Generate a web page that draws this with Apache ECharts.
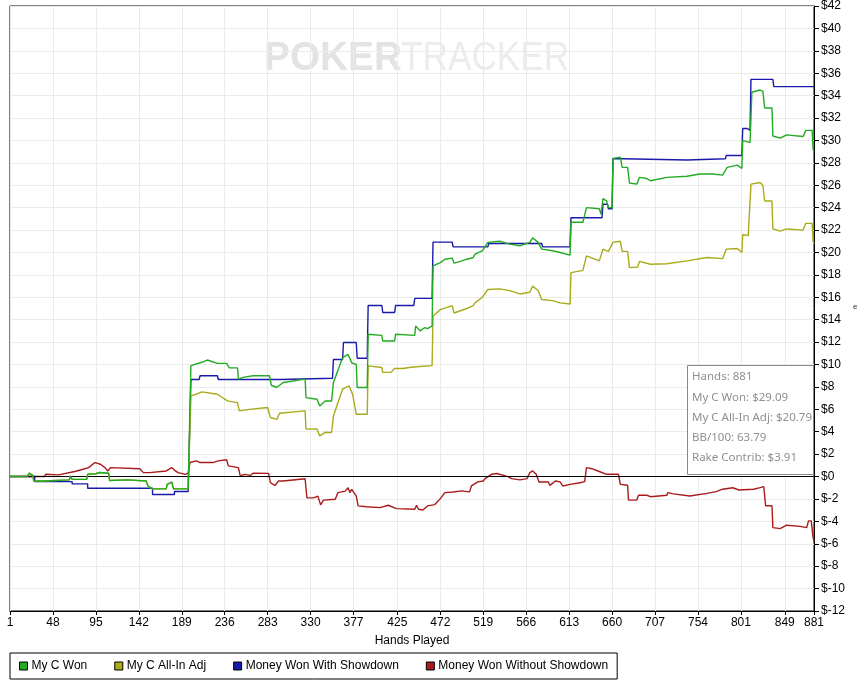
<!DOCTYPE html>
<html>
<head>
<meta charset="utf-8">
<title>Hands Played</title>
<script src="https://cdn.jsdelivr.net/npm/echarts@6/dist/echarts.min.js"></script>
<style>
    html, body { margin: 0; padding: 0; background: #fff; }
    #chart { width: 859px; height: 687px; }
</style>
</head>
<body>
<div id="chart"></div>
<script>
// hand numbers shown on the x axis
var tickHands = [1, 48, 95, 142, 189, 236, 283, 330, 377, 425, 472, 519, 566, 613, 660, 707, 754, 801, 849, 881];

var seriesNames = ['My C Won', 'My C All-In Adj', 'Money Won With Showdown', 'Money Won Without Showdown'];
var seriesColors = ['#22aa22', '#aaaa1a', '#1a1aaa', '#aa1a1a'];

// [hand, $]
var myCWon = [
    [1, 0], [20, 0], [22, 0.3], [26, 0.1], [27, -0.4], [38, -0.4], [39, -0.24], [66, -0.3], [67, 0.05], [69, -0.25],
    [85, -0.25], [86, 0.2], [95, 0.25], [99, 0.36], [109, 0.3], [110, -0.35], [130, -0.3], [150, -0.4], [152, -0.84],
    [157, -1.1], [172, -1.1], [173, -0.7], [178, -0.5], [180, -1.1], [196, -1.1],
    [199, 9.9], [200, 10.0], [211, 10.2], [217, 10.4], [228, 10.1], [238, 10.1], [241, 9.7], [250, 9.7], [251, 8.7],
    [256, 8.85], [267, 9.0], [285, 9.0], [287, 8.15], [293, 7.95], [300, 8.4], [324, 8.7], [325, 7.05], [337, 6.9],
    [340, 6.3], [346, 6.75], [353, 6.75], [355, 8.4], [365, 10.6], [371, 10.9], [375, 10.15], [380, 10.0], [381, 7.95],
    [392, 7.95], [393, 12.7], [408, 12.6], [409, 12.1], [422, 12.1], [423, 12.7], [444, 12.6], [445, 13.45], [450, 13.0],
    [455, 13.3], [458, 13.2], [463, 13.45], [464, 18.8], [472, 19.1], [477, 19.4], [485, 19.5], [487, 19.05], [494, 19.2],
    [501, 19.4], [508, 19.55], [510, 19.85], [518, 20.15], [524, 20.9], [537, 21.0], [548, 20.75], [559, 20.6],
    [570, 20.9], [573, 21.3], [579, 20.9], [583, 20.3], [595, 20.15], [603, 20.0], [614, 19.76], [615, 22.7],
    [628, 22.7], [632, 24.0], [646, 23.9], [648, 23.4], [650, 24.8], [654, 24.6], [656, 24.0], [660, 24.0], [661, 28.4],
    [669, 28.5], [671, 27.6], [677, 27.6], [679, 26.2], [687, 26.1], [690, 26.7], [698, 26.6], [702, 26.4], [720, 26.7],
    [742, 26.8], [756, 27.0], [770, 27.0], [781, 26.9], [786, 27.6], [797, 27.8], [802, 27.5], [803, 30.0], [811, 29.8],
    [813, 34.3], [822, 34.5], [825, 34.4], [827, 32.9], [835, 32.9], [836, 30.4], [844, 30.2], [851, 30.5], [869, 30.35],
    [872, 30.9], [879, 30.9], [880, 29.2], [881, 29.09]
];

var myCAllInAdj = [
    [1, 0], [20, 0], [22, 0.3], [26, 0.1], [27, -0.4], [38, -0.4], [39, -0.24], [66, -0.3], [67, 0.05], [69, -0.25],
    [85, -0.25], [86, 0.2], [95, 0.25], [99, 0.36], [109, 0.3], [110, -0.35], [130, -0.3], [150, -0.4], [152, -0.84],
    [157, -1.1], [172, -1.1], [173, -0.7], [178, -0.5], [180, -1.1], [196, -1.1],
    [199, 7.2], [205, 7.35], [211, 7.56], [228, 7.35], [230, 7.2], [239, 6.75], [250, 6.6], [252, 5.86], [263, 6.0],
    [283, 6.16], [286, 5.27], [293, 5.1], [296, 5.65], [324, 5.86], [325, 4.23], [337, 4.25], [340, 3.63], [346, 3.95],
    [353, 3.93], [355, 5.4], [365, 7.8], [372, 8.1], [376, 7.35], [380, 5.56], [392, 5.56], [393, 9.88], [408, 9.73],
    [409, 9.3], [418, 9.3], [422, 9.64], [431, 9.64], [438, 9.73], [446, 9.8], [463, 9.9], [464, 14.3], [472, 14.9],
    [485, 15.25], [487, 14.6], [494, 14.8], [501, 15.0], [508, 15.25], [510, 15.5], [518, 16.0], [524, 16.7],
    [537, 16.75], [548, 16.6], [559, 16.3], [570, 16.45], [573, 17.0], [579, 16.6], [583, 15.8], [595, 15.7],
    [603, 15.5], [614, 15.4], [615, 18.2], [628, 18.4], [632, 19.7], [646, 19.25], [650, 20.3], [656, 20.1],
    [661, 20.9], [669, 21.0], [671, 20.1], [677, 20.1], [679, 18.65], [688, 18.7], [690, 19.2], [702, 18.95],
    [720, 19.0], [742, 19.25], [764, 19.55], [781, 19.45], [785, 20.3], [797, 20.35], [802, 20.0], [803, 21.6],
    [809, 21.5], [812, 26.1], [822, 26.25], [825, 26.0], [827, 24.6], [835, 24.6], [836, 22.1], [844, 21.9],
    [851, 22.1], [869, 22.0], [872, 22.6], [879, 22.6], [880, 21.0], [881, 20.79]
];

var wonWithShowdown = [
    [1, 0], [28, 0], [28, -0.45], [69, -0.45], [69, -0.65], [86, -0.65], [86, -1.04], [157, -1.04], [157, -1.6],
    [181, -1.6], [181, -1.34], [196, -1.34], [199, 8.66], [208, 8.66], [209, 9.0], [228, 9.0], [229, 8.66],
    [297, 8.66], [298, 8.78], [354, 8.78], [355, 10.45], [365, 10.45], [366, 11.96], [380, 11.96], [381, 10.56],
    [392, 10.56], [393, 15.27], [408, 15.27], [409, 14.64], [422, 14.64], [423, 15.27], [443, 15.27], [444, 15.9],
    [463, 15.9], [464, 20.92], [485, 20.92], [486, 20.5], [524, 20.5], [525, 20.8], [583, 20.8], [584, 20.5],
    [614, 20.5], [615, 23.1], [649, 23.1], [650, 24.3], [655, 24.3], [656, 23.9], [660, 23.9], [661, 28.37],
    [672, 28.37], [673, 28.25], [742, 28.25], [743, 28.37], [784, 28.37], [785, 28.66], [802, 28.66], [803, 31.07],
    [808, 31.07], [809, 30.9], [811, 30.9], [812, 35.45], [836, 35.45], [837, 34.8], [881, 34.8]
];

var wonWithoutShowdown = [
    [1, 0], [39, 0], [40, 0.2], [54, 0.15], [72, 0.45], [81, 0.65], [87, 0.8], [94, 1.25], [100, 1.1], [105, 0.8],
    [108, 0.5], [111, 0.8], [143, 0.7], [147, 0.35], [154, 0.35], [172, 0.5], [178, 0.8], [182, 0.5], [185, 0.35],
    [193, 0.2], [196, 0.3], [198, 1.25], [205, 1.4], [209, 1.25], [223, 1.25], [229, 1.4], [238, 1.5], [240, 0.95],
    [251, 0.8], [253, 0.06], [258, 0.2], [264, 0.1], [267, 0.3], [284, 0.28], [286, -0.55], [291, -0.8], [295, -0.4],
    [300, -0.4], [324, -0.2], [326, -1.9], [333, -1.9], [338, -1.75], [341, -2.53], [344, -2.1], [357, -2.03],
    [360, -1.43], [368, -1.3], [371, -1.0], [373, -1.43], [375, -1.15], [380, -1.75], [382, -2.62], [391, -2.7],
    [406, -2.77], [415, -2.56], [424, -2.86], [444, -2.92], [446, -2.56], [448, -2.92], [453, -2.98], [458, -2.62],
    [466, -2.5], [472, -1.97], [477, -1.43], [486, -1.38], [495, -1.28], [497, -1.13], [504, -1.37], [506, -0.84],
    [513, -0.48], [519, -0.4], [521, -0.18], [528, 0.2], [534, 0.27], [546, 0.0], [550, -0.18], [559, -0.3],
    [567, -0.18], [570, 0.36], [573, 0.5], [577, 0.2], [580, -0.48], [590, -0.48], [592, -0.79], [598, -0.4],
    [603, -0.48], [606, -0.84], [614, -0.7], [625, -0.55], [630, -0.45], [632, 0.8], [638, 0.7], [646, 0.45],
    [654, 0.2], [667, 0.2], [669, -0.7], [677, -0.77], [678, -2.1], [687, -2.1], [689, -1.67], [698, -1.67],
    [702, -1.8], [720, -1.67], [721, -1.43], [727, -1.55], [745, -1.73], [764, -1.5], [774, -1.35], [781, -1.13],
    [792, -1.0], [799, -1.2], [815, -1.13], [822, -0.99], [826, -0.9], [828, -2.6], [835, -2.6], [836, -4.56],
    [844, -4.65], [851, -4.34], [866, -4.45], [873, -4.56], [875, -3.96], [878, -3.96], [880, -5.45], [881, -5.75]
];

var infoLines = ['Hands: 881', 'My C Won: $29.09', 'My C All-In Adj: $20.79', 'BB/100: 63.79', 'Rake Contrib: $3.91'];

var hands = [];
for (var i = 1; i <= 881; i++) {
    hands.push(String(i));
}

function isTick(index) {
    return tickHands.indexOf(index + 1) >= 0;
}

// hand number -> category index
function toIndex(points) {
    return points.map(function (p) {
        return [p[0] - 1, p[1]];
    });
}

var chartDom = document.getElementById('chart');
var myChart = echarts.init(chartDom);

var axisFont = "'Liberation Sans Narrow', 'Liberation Sans', Arial, sans-serif";
var allData = [myCWon, myCAllInAdj, wonWithShowdown, wonWithoutShowdown];
// draw order in the picture: red, blue, mustard, green on top
var drawOrder = [3, 2, 1, 0];

var series = drawOrder.map(function (k) {
    return {
        name: seriesNames[k],
        type: 'line',
        data: toIndex(allData[k]),
        showSymbol: false,
        symbol: 'none',
        z: 3 + (3 - k),
        lineStyle: { color: seriesColors[k], width: 1.4 },
        itemStyle: { color: seriesColors[k] },
        animation: false
    };
});

// black zero line
series[0].markLine = {
    silent: true,
    symbol: 'none',
    label: { show: false },
    lineStyle: { color: '#000', width: 1, type: 'solid' },
    data: [{ yAxis: 0 }]
};

var infoGraphic = [{
    type: 'rect',
    shape: { x: 687.5, y: 365.5, width: 126, height: 109 },
    style: { fill: '#fff', stroke: '#8a8a8a', lineWidth: 1 },
    z: 100
}];
infoLines.forEach(function (t, i) {
    infoGraphic.push({
        type: 'text',
        x: 692,
        y: 377 + i * 20.3,
        style: {
            text: t,
            fill: '#8f8f8f',
            font: "11.5px 'Noto Sans', 'Open Sans', sans-serif",
            verticalAlign: 'middle'
        },
        z: 101
    });
});

var option = {
    backgroundColor: '#fff',
    animation: false,
    grid: {
        left: 10,
        right: 45,
        top: 6,
        bottom: 76,
        show: true,
        borderColor: '#000',
        borderWidth: 1
    },
    legend: {
        data: seriesNames,
        left: 10,
        top: 653,
        orient: 'horizontal',
        icon: 'rect',
        itemWidth: 8,
        itemHeight: 8,
        itemGap: 27,
        padding: [7, 9, 7, 9],
        borderColor: '#000',
        borderWidth: 1,
        selectedMode: false,
        itemStyle: { borderColor: '#000', borderWidth: 1 },
        textStyle: { fontFamily: axisFont, fontSize: 12, color: '#000', padding: [0, 0, 0, -1] }
    },
    xAxis: {
        type: 'category',
        data: hands,
        boundaryGap: false,
        name: 'Hands Played',
        nameLocation: 'middle',
        nameGap: 24,
        nameTextStyle: { fontFamily: axisFont, fontSize: 12, color: '#000' },
        axisLine: { onZero: false, lineStyle: { color: '#000' } },
        axisTick: { interval: function (index) { return isTick(index); }, length: 4, lineStyle: { color: '#000' } },
        axisLabel: {
            interval: function (index) { return isTick(index); },
            fontFamily: axisFont,
            fontSize: 12,
            color: '#000',
            margin: 6
        },
        splitLine: {
            show: true,
            interval: function (index) { return isTick(index); },
            lineStyle: { color: '#ebebeb', width: 1 }
        }
    },
    yAxis: {
        type: 'value',
        position: 'right',
        min: -12,
        max: 42,
        interval: 2,
        axisLine: { show: true, lineStyle: { color: '#000' } },
        axisTick: { show: true, inside: false, length: 5, lineStyle: { color: '#000' } },
        axisLabel: {
            fontFamily: axisFont,
            fontSize: 12,
            color: '#000',
            margin: 7,
            formatter: function (v) { return '$' + v; }
        },
        splitLine: { show: true, lineStyle: { color: '#ebebeb', width: 1 } }
    },
    graphic: [
        {
            type: 'text',
            x: 264,
            y: 39,
            scaleX: 0.97,
            style: { text: 'POKER', fill: '#e3e3e3', font: "bold 40px 'Liberation Sans', Arial, sans-serif" },
            z: 0
        },
        {
            type: 'text',
            x: 401,
            y: 39,
            scaleX: 0.88,
            style: { text: 'TRACKER', fill: '#ececec', font: "40px 'Liberation Sans', Arial, sans-serif" },
            z: 0
        },
        {
            type: 'text',
            x: 853,
            y: 303,
            style: { text: 'e', fill: '#333', font: "8px 'Liberation Sans', Arial, sans-serif" }
        }
    ].concat(infoGraphic),
    series: series
};

option && myChart.setOption(option);
</script>
</body>
</html>
